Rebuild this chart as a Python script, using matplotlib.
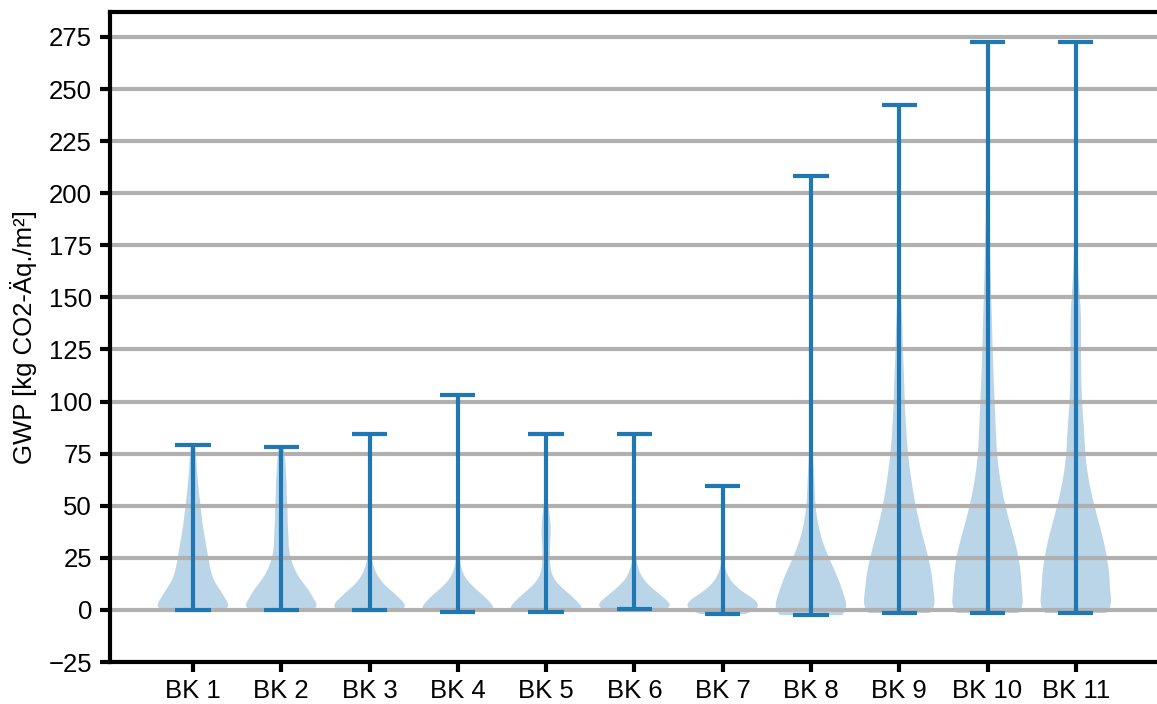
import numpy as np
import matplotlib
matplotlib.use('Agg')
import matplotlib.pyplot as plt

plt.rcParams['font.family'] = ['Liberation Sans', 'DejaVu Sans']

labels = ['BK 1', 'BK 2', 'BK 3', 'BK 4', 'BK 5', 'BK 6', 'BK 7', 'BK 8', 'BK 9', 'BK 10', 'BK 11']

# GWP per building class as frequency tables (value in kg CO2-eq/m2, count),
# read off the violin widths
bk1_val = [0, 2.5, 5, 7.5, 10, 12.5, 15, 17.5, 20, 22.5, 25, 27.5, 30, 32.5, 35, 37.5, 40, 42.5, 45,
           47.5, 50, 52.5, 55, 57.5, 60, 62.5, 65, 67.5, 70, 72.5, 75, 77.5, 79]
bk1_cnt = [72, 30, 38, 34, 29, 25, 22, 20, 19, 18, 17, 16, 15, 14, 13, 12, 11, 10, 10,
           9, 8, 8, 7, 6, 6, 5, 5, 4, 4, 4, 3, 3, 2]
bk2_val = [0, 2.5, 5, 7.5, 10, 12.5, 15, 17.5, 20, 22.5, 25, 27.5, 30, 32.5, 35, 37.5, 40, 42.5, 45,
           47.5, 50, 52.5, 55, 57.5, 60, 62.5, 65, 67.5, 70, 72.5, 75, 77.5, 78]
bk2_cnt = [72, 30, 38, 34, 30, 25, 20, 17, 14, 12, 10, 9, 8, 8, 8, 8, 7, 7, 7,
           7, 7, 6, 6, 6, 6, 6, 5, 5, 5, 4, 4, 3, 1]
bk3_val = [0, 2.5, 5, 7.5, 10, 12.5, 15, 17.5, 20, 22.5, 25, 27.5, 30, 84.5]
bk3_cnt = [72, 30, 36, 29, 21, 14, 10, 7, 5, 3, 2, 1, 1, 1]
bk4_val = [-1, 1.5, 4, 6.5, 9, 11.5, 14, 16.5, 19, 21.5, 24, 26.5, 29, 31.5, 34, 36.5, 39, 41.5, 44,
           46.5, 103]
bk4_cnt = [72, 30, 37, 30, 22, 15, 10, 6, 4, 3, 2, 2, 2, 2, 2, 2, 1, 1, 1, 1, 1]
bk5_val = [-1, 1.5, 4, 6.5, 9, 11.5, 14, 16.5, 19, 21.5, 24, 26.5, 29, 31.5, 34, 36.5, 39, 41.5, 44,
           46.5, 49, 51.5, 54, 84.5]
bk5_cnt = [72, 30, 36, 29, 21, 14, 9, 6, 5, 4, 4, 4, 4, 4, 5, 5, 5, 5, 4, 4, 3, 2, 1, 1]
bk6_val = [0.5, 3, 5.5, 8, 10.5, 13, 15.5, 18, 20.5, 23, 25.5, 28, 30.5, 84.5]
bk6_cnt = [72, 30, 35, 26, 18, 12, 8, 5, 4, 2, 2, 1, 1, 1]
bk7_val = [-2, 0.5, 3, 5.5, 8, 10.5, 13, 15.5, 18, 20.5, 23, 25.5, 59.5]
bk7_cnt = [27, 49, 42, 34, 23, 15, 10, 6, 4, 2, 1, 1, 1]
bk8_val = [-2.5, 2.5, 7.5, 12.5, 17.5, 22.5, 27.5, 32.5, 37.5, 42.5, 47.5, 52.5, 57.5, 62.5, 67.5,
           72.5, 77.5, 82.5, 87.5, 92.5, 97.5, 102.5, 107.5, 115, 125, 140, 160, 180, 208.5]
bk8_cnt = [70, 30, 37, 33, 27, 22, 17, 12, 9, 7, 5, 4, 4, 4, 3, 2, 2, 2, 1, 1, 1, 1, 1, 1, 1, 1, 1, 1, 1]
bk9_val = [-1.5, 3.5, 8.5, 13.5, 18.5, 23.5, 28.5, 33.5, 38.5, 43.5, 48.5, 53.5, 58.5, 63.5, 68.5,
           73.5, 78.5, 83.5, 88.5, 93.5, 98.5, 103.5, 108.5, 113.5, 118.5, 123.5, 128.5, 133.5, 138.5,
           143.5, 148.5, 153.5, 158.5, 163.5, 168.5, 173.5, 178.5, 183.5, 188.5, 193.5, 198.5, 205,
           215, 228, 242.5]
bk9_cnt = [71, 30, 40, 39, 36, 34, 31, 28, 24, 22, 19, 17, 15, 13, 12, 10, 9, 8, 8, 7, 6, 6, 6, 5, 5,
           4, 4, 4, 3, 3, 2, 2, 2, 2, 2, 2, 1, 1, 1, 1, 1, 1, 1, 1, 1]
bk10_val = [-1.5, 3.5, 8.5, 13.5, 18.5, 23.5, 28.5, 33.5, 38.5, 43.5, 48.5, 53.5, 58.5, 63.5, 68.5,
            73.5, 78.5, 83.5, 88.5, 93.5, 98.5, 103.5, 108.5, 113.5, 118.5, 123.5, 128.5, 133.5,
            138.5, 143.5, 148.5, 153.5, 158.5, 163.5, 168.5, 173.5, 178.5, 183.5, 188.5, 193.5,
            198.5, 203.5, 208.5, 213.5, 218.5, 223.5, 228.5, 233.5, 238.5, 243.5, 248.5, 253.5,
            258.5, 263.5, 268.5, 272.5]
bk10_cnt = [71, 30, 40, 39, 38, 36, 34, 31, 27, 24, 21, 18, 16, 14, 12, 11, 10, 10, 9, 9, 8, 8, 7, 7,
            6, 6, 6, 5, 5, 5, 4, 4, 4, 3, 3, 3, 3, 2, 2, 2, 2, 2, 2, 1, 1, 1, 1, 1, 1, 1, 1, 1, 1,
            1, 1, 1]
bk11_val = [-1.5, 3.5, 8.5, 13.5, 18.5, 23.5, 28.5, 33.5, 38.5, 43.5, 48.5, 53.5, 58.5, 63.5, 68.5,
            73.5, 78.5, 83.5, 88.5, 93.5, 98.5, 103.5, 108.5, 113.5, 118.5, 123.5, 128.5, 133.5,
            138.5, 143.5, 148.5, 153.5, 158.5, 163.5, 168.5, 173.5, 178.5, 188.5, 198.5, 208.5,
            220, 235, 250, 262, 272.5]
bk11_cnt = [71, 30, 40, 39, 38, 36, 34, 32, 28, 25, 22, 19, 16, 14, 12, 11, 10, 10, 9, 8, 7, 7, 6, 6,
            6, 6, 6, 6, 6, 6, 5, 4, 3, 3, 2, 2, 2, 1, 1, 1, 1, 1, 1, 1, 1]

tables = [(bk1_val, bk1_cnt), (bk2_val, bk2_cnt), (bk3_val, bk3_cnt), (bk4_val, bk4_cnt),
          (bk5_val, bk5_cnt), (bk6_val, bk6_cnt), (bk7_val, bk7_cnt), (bk8_val, bk8_cnt),
          (bk9_val, bk9_cnt), (bk10_val, bk10_cnt), (bk11_val, bk11_cnt)]
yticks = [-25, 0, 25, 50, 75, 100, 125, 150, 175, 200, 225, 250, 275]

fig = plt.figure(figsize=(11.57, 7.04), dpi=100)
ax = fig.add_axes([110/1157, 42/704, 1 - 110/1157, 650/704])

for i, (v, c) in enumerate(tables):
    h = 1.2 * (v[2] - v[1])  # kernel width a bit above the table step
    obs = np.repeat(v, c)
    vp = ax.violinplot([obs], positions=[i + 1], widths=0.8, showextrema=True,
                       bw_method=lambda k, h=h: h / np.std(k.dataset, ddof=1))
    for b in vp['bodies']:
        b.set_facecolor('#1f77b4')
        b.set_edgecolor('none')
        b.set_alpha(0.3)
    for part in ['cbars', 'cmins', 'cmaxes']:
        vp[part].set_linewidth(3)
        vp[part].set_color('#1f77b4')

ax.set_xticks(range(1, len(labels) + 1))
ax.set_xticklabels(labels)
ax.set_yticks(yticks)
ax.set_xlim(0.06, 11.92)
ax.set_ylim(-25, 287)
ax.yaxis.grid(True, color='#b0b0b0', linewidth=3)
ax.set_ylabel('GWP [kg CO2-Äq./m²]', fontsize=18.5, labelpad=8)
ax.tick_params(labelsize=18.5, width=3, length=7)
ax.tick_params(axis='y', pad=6)
ax.tick_params(axis='x', pad=5)
for s in ['left', 'top', 'bottom']:
    ax.spines[s].set_linewidth(3)
ax.spines['right'].set_visible(False)

plt.savefig('out.png', dpi=100)
